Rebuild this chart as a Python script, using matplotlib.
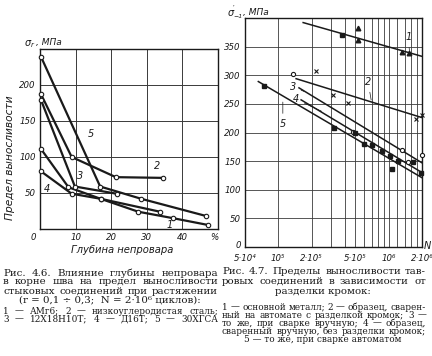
import matplotlib
matplotlib.use("Agg")
import matplotlib.pyplot as plt
import numpy as np

# ---------------- data: Fig 4.6 (left) ----------------
depth_1 = [0.3, 8.0, 17.0, 27.6, 37.4, 47.3]
sigma_1 = [111, 58, 42, 24, 15, 5.5]
depth_2 = [0.3, 8.9, 21.3, 34.6]
sigma_2 = [187, 100, 72, 71]
depth_3 = [0.3, 9.8, 21.5]
sigma_3 = [179, 59, 49]
depth_4 = [0.3, 8.9, 17.0, 33.7]
sigma_4 = [80, 49, 42, 24]
depth_5 = [0.3, 16.9, 28.4, 46.7]
sigma_5 = [239, 59, 42, 18]
left_xticks = [10, 20, 30, 40]
left_yticks = [50, 100, 150, 200]

# ---------------- data: Fig 4.7 (right) ----------------
line1_N = [1.68e5, 2.0e6]
line1_s = [392, 333]
line2_N = [1.45e5, 2.0e6]
line2_s = [294, 226]
line3_N = [1.54e5, 2.0e6]
line3_s = [278, 147]
line4_N = [1.61e5, 2.0e6]
line4_s = [257, 130]
line5_N = [6.6e4, 2.0e6]
line5_s = [289, 121]

tri_N = [5.3e5, 5.3e5, 1.32e6, 1.52e6]
tri_s = [382, 361, 340, 338]
sq1_N = [3.8e5]
sq1_s = [371]
x_N = [2.2e5, 3.1e5, 4.3e5, 1.75e6, 2.0e6]
x_s = [308, 266, 252, 224, 231]
open_N = [1.36e5, 4.7e5, 1.32e6, 1.5e6, 2.0e6]
open_s = [303, 201, 170, 149, 161]
fill_N = [7.5e4, 3.18e5, 5.0e5, 6.0e5, 7.1e5, 8.7e5, 1.03e6, 1.07e6, 1.22e6, 1.65e6, 1.95e6]
fill_s = [282, 208, 200, 180, 179, 168, 159, 137, 151, 149, 130]

right_xticks = [5e4, 1e5, 2e5, 5e5, 1e6, 2e6]
right_xlabels = ["5·10⁴", "10⁵", "2·10⁵", "5·10⁵", "10⁶", "2·10⁶"]
right_yticks = [50, 100, 150, 200, 250, 300, 350]
right_grid_N = [1e5, 2e5, 3e5, 4e5, 5e5, 6e5, 7e5, 8e5, 9e5, 1e6, 1.2e6, 1.4e6, 1.6e6, 1.8e6]

W, H = 432, 356
fig = plt.figure(figsize=(W / 100, H / 100), dpi=100)
fig.patch.set_facecolor("white")
renderer = fig.canvas.get_renderer()

def px(x, y):
    return x / W, 1 - y / H

INK = "#1a1a1a"
GRID = "#3a3a3a"
tick_font = dict(family="DejaVu Sans", style="italic", size=6.2, color=INK)
lab_font = dict(family="DejaVu Sans", style="italic", size=7, color=INK)
serif = ["DejaVu Serif"]

def justify(line, x0, x1, y, **kw):
    words = line.split(" ")
    texts = [fig.text(0, 0, w, ha="left", va="center", **kw) for w in words]
    widths = [t.get_window_extent(renderer).width for t in texts]
    gap = (x1 - x0 - sum(widths)) / max(len(words) - 1, 1)
    x = x0
    for t, w in zip(texts, widths):
        t.set_position(px(x, y))
        x += w + gap

# ---------------- left axes ----------------
ax1 = fig.add_axes([40 / W, 1 - 229 / H, 178 / W, 180 / H])
ax1.set_xlim(0, 50)
ax1.set_ylim(0, 250)
for v in left_xticks:
    ax1.axvline(v, color=GRID, lw=0.7, zorder=1)
for v in left_yticks:
    ax1.axhline(v, color=GRID, lw=0.7, zorder=1)
for s in ax1.spines.values():
    s.set_color(INK)
    s.set_linewidth(1.0)
ax1.set_xticks(left_xticks)
ax1.set_xticklabels([str(v) for v in left_xticks], **tick_font)
ax1.set_yticks(left_yticks)
ax1.set_yticklabels([str(v) for v in left_yticks], **tick_font)
ax1.tick_params(length=0, pad=3)

for xs, ys in [(depth_1, sigma_1), (depth_2, sigma_2), (depth_3, sigma_3),
               (depth_4, sigma_4), (depth_5, sigma_5)]:
    ax1.plot(xs, ys, color=INK, lw=1.6, zorder=3, solid_joinstyle="miter")
    ax1.plot(xs, ys, ls="none", marker="o", ms=3.2, mfc="white", mec=INK, mew=0.8,
             zorder=4, clip_on=False)

ax1.text(-1.2, -5, "0", ha="right", va="top", **tick_font)
ax1.text(50, -5, "%", ha="right", va="top", **tick_font)
fig.text(*px(25, 43), "σ", ha="left", va="center", family="DejaVu Sans", style="italic", size=7, color=INK)
fig.text(*px(31, 45), "r", ha="left", va="center", family="DejaVu Sans", style="italic", size=5, color=INK)
fig.text(*px(36, 43), ", МПа", ha="left", va="center", family="DejaVu Sans", style="italic", size=6.5, color=INK)
fig.text(*px(10, 158), "Предел выносливости", rotation=90, ha="center", va="center",
         family="DejaVu Sans", style="italic", size=7.7, color=INK)
fig.text(*px(122, 250), "Глубина непровара", ha="center", va="center",
         family="DejaVu Sans", style="italic", size=7.2, color=INK)

ax1.text(13.5, 128, "5", **lab_font)
ax1.text(32.0, 84, "2", **lab_font)
ax1.text(10.5, 70, "3", **lab_font)
ax1.text(1.0, 52, "4", **lab_font)
ax1.text(35.5, 1, "1", **lab_font)

# ---------------- right axes ----------------
ax2 = fig.add_axes([245 / W, 1 - 247 / H, 177 / W, 229 / H])
ax2.set_xscale("log")
ax2.set_xlim(5e4, 2e6)
ax2.set_ylim(0, 400)
for v in right_grid_N:
    ax2.axvline(v, color=GRID, lw=0.6, zorder=1)
for v in right_yticks:
    ax2.axhline(v, color=GRID, lw=0.6, zorder=1)
for s in ax2.spines.values():
    s.set_color(INK)
    s.set_linewidth(1.0)
ax2.xaxis.set_minor_locator(matplotlib.ticker.NullLocator())
ax2.set_xticks(right_xticks)
ax2.set_xticklabels(right_xlabels, **tick_font)
ax2.set_yticks(right_yticks)
ax2.set_yticklabels([str(v) for v in right_yticks], **tick_font)
ax2.tick_params(axis="x", length=0, pad=5)
ax2.tick_params(axis="y", length=0, pad=3)

for xs, ys in [(line1_N, line1_s), (line2_N, line2_s), (line3_N, line3_s),
               (line4_N, line4_s), (line5_N, line5_s)]:
    ax2.plot(xs, ys, color=INK, lw=1.1, zorder=3)

ax2.plot(tri_N, tri_s, ls="none", marker="^", ms=3.3, color=INK, zorder=4)
ax2.plot(sq1_N, sq1_s, ls="none", marker="s", ms=2.8, color=INK, zorder=4)
ax2.plot(x_N, x_s, ls="none", marker="x", ms=3, mew=0.8, color=INK, zorder=4, clip_on=False)
ax2.plot(open_N, open_s, ls="none", marker="o", ms=3, mfc="white", mec=INK, mew=0.8, zorder=4, clip_on=False)
ax2.plot(fill_N, fill_s, ls="none", marker="s", ms=2.8, color=INK, zorder=4, clip_on=False)

fig.text(*px(238, 246), "0", ha="center", va="center", **tick_font)
fig.text(*px(427, 246), "N", ha="center", va="center", **lab_font)
fig.text(*px(228, 13), "σ", ha="left", va="center", family="DejaVu Sans", style="italic", size=7, color=INK)
fig.text(*px(233, 8), "′", ha="left", va="center", family="DejaVu Sans", size=5, color=INK)
fig.text(*px(233, 16), "−1", ha="left", va="center", family="DejaVu Sans", style="italic", size=4.5, color=INK)
fig.text(*px(243, 13), ", МПа", ha="left", va="center", family="DejaVu Sans", style="italic", size=6.5, color=INK)

leader = dict(arrowstyle="-", color=INK, lw=0.5)
ax2.annotate("1", xy=(1.55e6, 336), xytext=(1.5e6, 358), ha="center", va="bottom", arrowprops=leader, **lab_font)
ax2.annotate("2", xy=(7.0e5, 252), xytext=(6.5e5, 280), ha="center", va="bottom", arrowprops=leader, **lab_font)
ax2.annotate("3", xy=(1.8e5, 270), xytext=(1.35e5, 280), ha="center", va="center", arrowprops=leader, **lab_font)
ax2.annotate("4", xy=(2.6e5, 235), xytext=(1.45e5, 258), ha="center", va="center", arrowprops=leader, **lab_font)
ax2.annotate("5", xy=(1.1e5, 258), xytext=(1.1e5, 215), ha="center", va="center", arrowprops=leader, **lab_font)

# ---------------- captions ----------------
cap = dict(family=serif, size=7.4, color=INK)
small = dict(family=serif, size=6.4, color=INK)
justify("Рис. 4.6. Влияние глубины непровара", 3, 218, 273, **cap)
justify("в корне шва на предел выносливости", 3, 218, 282, **cap)
justify("стыковых соединений при растяжении", 3, 218, 291, **cap)
fig.text(*px(110, 300), "(r = 0,1 ÷ 0,3;  N = 2·10⁶ циклов):", ha="center", va="center", **cap)
justify("1 — АМг6; 2 — низкоуглеродистая сталь;", 3, 218, 311, **small)
justify("3 — 12Х18Н10Т; 4 — Д16Т; 5 — 30ХГСА", 3, 218, 319, **small)

justify("Рис. 4.7. Пределы выносливости тав-", 222, 426, 272, **cap)
justify("ровых соединений в зависимости от", 222, 426, 281, **cap)
fig.text(*px(323, 291), "разделки кромок:", ha="center", va="center", **cap)
justify("1 — основной металл; 2 — образец, сварен-", 222, 426, 307, **small)
justify("ный на автомате с разделкой кромок; 3 —", 222, 426, 315, **small)
justify("то же, при сварке вручную; 4 — образец,", 222, 426, 323, **small)
justify("сваренный вручную, без разделки кромок;", 222, 426, 331, **small)
fig.text(*px(323, 339), "5 — то же, при сварке автоматом", ha="center", va="center", **small)

fig.savefig("out.png", dpi=100, facecolor="white")
